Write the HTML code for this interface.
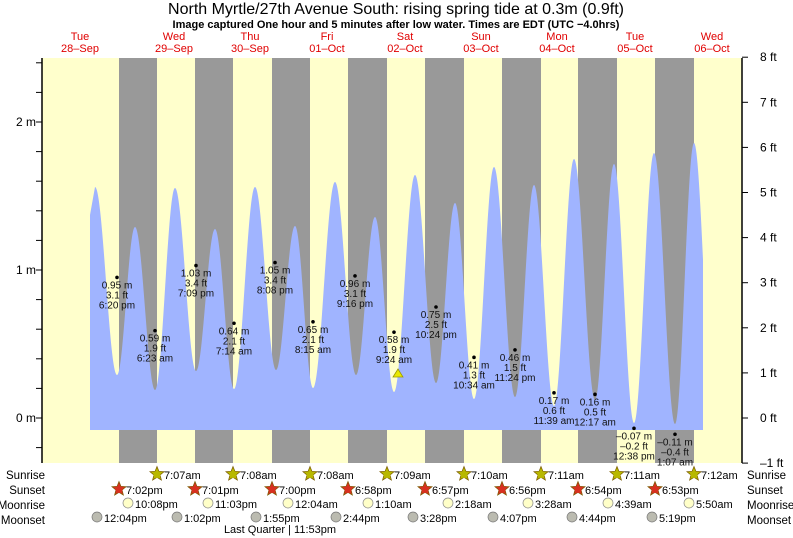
<!DOCTYPE html>
<html><head><meta charset="utf-8"><style>
body{margin:0;background:#fff;}
svg{display:block;font-family:"Liberation Sans",sans-serif;}
</style></head><body>
<svg id="s" width="793" height="538" viewBox="0 0 793 538" xmlns="http://www.w3.org/2000/svg">
<rect x="42" y="58" width="700" height="405" fill="#ffffcc"/>
<g fill="#999999">
<rect x="119" y="58" width="38" height="405"/><rect x="195" y="58" width="38" height="405"/>
<rect x="272" y="58" width="38" height="405"/><rect x="348" y="58" width="39" height="405"/>
<rect x="425" y="58" width="39" height="405"/><rect x="502" y="58" width="39" height="405"/>
<rect x="578" y="58" width="39" height="405"/><rect x="655" y="58" width="39" height="405"/>
</g>
<path id="tide" fill="#a0b4ff" d=""/>
<g stroke="#000" stroke-width="1.5"><line x1="42" y1="58" x2="42" y2="463"/><line x1="742" y1="58" x2="742" y2="463"/></g>
<g id="ticks" stroke="#000" stroke-width="1"></g>
<g font-size="12" text-anchor="end">
<text x="36" y="126">2 m</text><text x="36" y="274">1 m</text><text x="36" y="422">0 m</text></g>
<g id="ft" font-size="12"></g>
<text x="396" y="14" font-size="16" text-anchor="middle">North Myrtle/27th Avenue South: rising  spring tide at 0.3m (0.9ft)</text>
<text x="396" y="28" font-size="11" font-weight="bold" text-anchor="middle">Image captured One hour and 5 minutes after low water. Times are EDT (UTC −4.0hrs)</text>
<g fill="#e00000" font-size="11" text-anchor="middle" id="days"></g>
<g id="marks" font-size="10" text-anchor="middle" fill="#111"></g>
<polygon points="398,369 393,377 403,377" fill="#e8e800" stroke="#999900" stroke-width="0.8"/>
<g font-size="11.5" text-anchor="end"><text x="45" y="479">Sunrise</text><text x="45" y="494">Sunset</text><text x="45" y="509">Moonrise</text><text x="45" y="524">Moonset</text></g>
<g font-size="11.5"><text x="747" y="479">Sunrise</text><text x="747" y="494">Sunset</text><text x="747" y="509">Moonrise</text><text x="747" y="524">Moonset</text></g>
<g id="astro" font-size="11"></g>
<text x="280" y="533" font-size="11" text-anchor="middle">Last Quarter | 11:53pm</text>
</svg>
<script>
var ns="http://www.w3.org/2000/svg";
function el(p,t,a,txt){var e=document.createElementNS(ns,t);for(var k in a)e.setAttribute(k,a[k]);if(txt)e.textContent=txt;document.getElementById(p).appendChild(e);return e;}
var ex=[[90,215],[95,187],[117,375],[135,227],[155,390],[175,188],[196,371],[215,229],[234,389],[255,187],[276,370],[295,226],[313,388],[335,182],[356,375],[375,217],[394,392],[415,175],[436,383],[455,203],[474,399],[494,167],[515,397],[534,185],[554,406],[574,159],[595,400],[614,164],[634,423],[654,153],[675,424],[694,143],[714,420]];
var d="M90,430 L90,215";
for(var i=1;i<ex.length-1;i++){var a=ex[i],b=ex[i+1];for(var x=a[0];x<=b[0];x+=0.5){var t=(x-a[0])/(b[0]-a[0]);var y=a[1]+(b[1]-a[1])*(1-Math.cos(Math.PI*t))/2;if(x>703)break;d+=" L"+x+","+y.toFixed(1);}}
d+=" L703,243 L703,430 Z";
document.getElementById("tide").setAttribute("d",d);
for(var m=-0.2;m<=2.45;m+=0.2){var y=418-148*m;el("ticks","line",{x1:36,x2:42,y1:y,y2:y});}
for(var f=-1;f<=8;f++){var y=418-45.1*f;el("ticks","line",{x1:742,x2:748,y1:y,y2:y});el("ft","text",{x:760,y:y+4},(f<0?"–1":f)+" ft");}
var dn=[[80,"Tue","28–Sep"],[174,"Wed","29–Sep"],[250,"Thu","30–Sep"],[327,"Fri","01–Oct"],[405,"Sat","02–Oct"],[481,"Sun","03–Oct"],[557,"Mon","04–Oct"],[635,"Tue","05–Oct"],[712,"Wed","06–Oct"]];
dn.forEach(function(q){el("days","text",{x:q[0],y:40},q[1]);el("days","text",{x:q[0],y:52},q[2]);});
var mk=[[117,0.95,"3.1","6:20 pm"],[155,0.59,"1.9","6:23 am"],[196,1.03,"3.4","7:09 pm"],[234,0.64,"2.1","7:14 am"],[275,1.05,"3.4","8:08 pm"],[313,0.65,"2.1","8:15 am"],[355,0.96,"3.1","9:16 pm"],[394,0.58,"1.9","9:24 am"],[436,0.75,"2.5","10:24 pm"],[474,0.41,"1.3","10:34 am"],[515,0.46,"1.5","11:24 pm"],[554,0.17,"0.6","11:39 am"],[595,0.16,"0.5","12:17 am"],[634,-0.07,"–0.2","12:38 pm"],[675,-0.11,"–0.4","1:07 am"]];
mk.forEach(function(q){var y=418-148*q[1];el("marks","circle",{cx:q[0],cy:y,r:1.8,fill:"#000"});var h=(q[1]<0?"–"+Math.abs(q[1]).toFixed(2):q[1].toFixed(2))+" m";el("marks","text",{x:q[0],y:y+11},h);el("marks","text",{x:q[0],y:y+21},q[2]+" ft");el("marks","text",{x:q[0],y:y+31},q[3]);});
function star(cx,cy,fill){var p="";for(var k=0;k<10;k++){var r=k%2?3.3:7.5,a=-Math.PI/2+k*Math.PI/5;p+=(cx+r*Math.cos(a)).toFixed(1)+","+(cy+r*Math.sin(a)).toFixed(1)+" ";}el("astro","polygon",{points:p,fill:fill,stroke:"#7a5a00","stroke-width":0.7});el("astro","circle",{cx:cx,cy:cy+0.5,r:3.6,fill:fill});}
var sr=[157,233,310,387,464,541,617,694],srt=["7:07am","7:08am","7:08am","7:09am","7:10am","7:11am","7:11am","7:12am"];
sr.forEach(function(x,i){star(x,474,"#b8b800");el("astro","text",{x:x+7,y:479},srt[i]);});
var ss=[119,195,272,348,425,502,578,655],sst=["7:02pm","7:01pm","7:00pm","6:58pm","6:57pm","6:56pm","6:54pm","6:53pm"];
ss.forEach(function(x,i){star(x,489,"#d83020");el("astro","text",{x:x+7,y:494},sst[i]);});
var mr=[128,208,288,368,448,528,608,689],mrt=["10:08pm","11:03pm","12:04am","1:10am","2:18am","3:28am","4:39am","5:50am"];
mr.forEach(function(x,i){el("astro","circle",{cx:x,cy:503,r:5,fill:"#ffffc8",stroke:"#888","stroke-width":0.7});el("astro","text",{x:x+7,y:508},mrt[i]);});
var ms=[97,177,256,336,413,493,572,652],mst=["12:04pm","1:02pm","1:55pm","2:44pm","3:28pm","4:07pm","4:44pm","5:19pm"];
ms.forEach(function(x,i){el("astro","circle",{cx:x,cy:517,r:5,fill:"#bbbbb0",stroke:"#777","stroke-width":0.7});el("astro","text",{x:x+7,y:522},mst[i]);});
</script>
</body></html>
